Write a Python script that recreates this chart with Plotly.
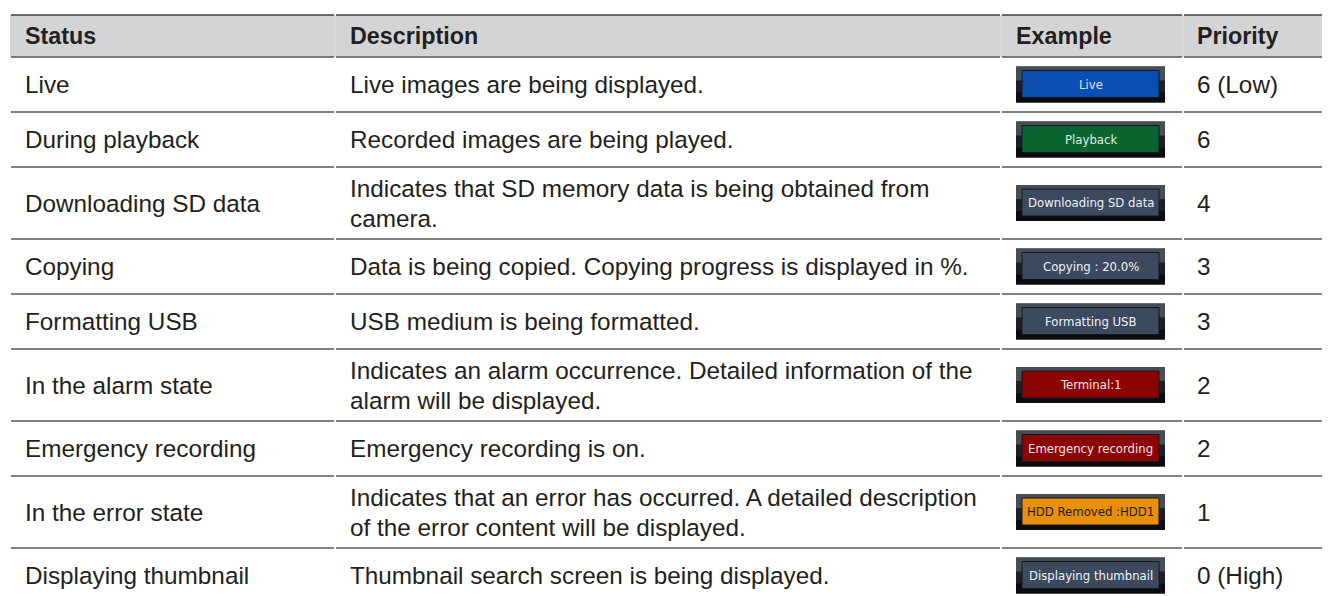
import plotly.graph_objects as go

# ---------------- data ----------------
headers = ["Status", "Description", "Example", "Priority"]
statuses = ["Live", "During playback", "Downloading SD data", "Copying", "Formatting USB",
            "In the alarm state", "Emergency recording", "In the error state", "Displaying thumbnail"]
descriptions = [
    ["Live images are being displayed."],
    ["Recorded images are being played."],
    ["Indicates that SD memory data is being obtained from", "camera."],
    ["Data is being copied. Copying progress is displayed in %."],
    ["USB medium is being formatted."],
    ["Indicates an alarm occurrence. Detailed information of the", "alarm will be displayed."],
    ["Emergency recording is on."],
    ["Indicates that an error has occurred. A detailed description", "of the error content will be displayed."],
    ["Thumbnail search screen is being displayed."],
]
examples = ["Live", "Playback", "Downloading SD data", "Copying : 20.0%", "Formatting USB",
            "Terminal:1", "Emergency recording", "HDD Removed :HDD1", "Displaying thumbnail"]
priorities = ["6 (Low)", "6", "4", "3", "3", "2", "2", "1", "0 (High)"]

# ---------------- styles ----------------
badge_style = {
    "Live": ("#0b4fb3", "#dfe6f0"),
    "Playback": ("#0b6530", "#dfeee2"),
    "Downloading SD data": ("#3c4a5f", "#f0f2f5"),
    "Copying : 20.0%": ("#3c4a5f", "#f0f2f5"),
    "Formatting USB": ("#3c4a5f", "#f0f2f5"),
    "Terminal:1": ("#8c0303", "#f4e6e6"),
    "Emergency recording": ("#8c0303", "#f4e6e6"),
    "HDD Removed :HDD1": ("#e8900c", "#1a1a1a"),
    "Displaying thumbnail": ("#3c4a5f", "#f0f2f5"),
}
W, H = 1330, 596
OFF = 8  # page body margin
col_edges = [10, 335, 1001, 1183, 1330]
text_pad = 13
header_top, header_bot = 15, 57
row_h_single, row_extra_line = 55, 17
line_gap = 30
FONT = "Liberation Sans, Arial, Helvetica, sans-serif"
TXT = "#231f20"
FS = 24.3

fig = go.Figure()
shapes, annos = [], []

# header
shapes.append(dict(type="rect", xref="x", yref="y", x0=col_edges[0], x1=col_edges[-1],
                   y0=header_top, y1=header_bot, fillcolor="#d3d4d6", line=dict(width=0), layer="below"))
for i, h in enumerate(headers):
    annos.append(dict(x=col_edges[i] + text_pad - (1 if i == 3 else 0), y=(header_top + header_bot) / 2,
                      text="<b>%s</b>" % h,
                      xanchor="left", yanchor="middle", showarrow=False,
                      font=dict(family=FONT, size=FS - 1, color=TXT)))
for xe in col_edges[1:-1]:
    shapes.append(dict(type="line", xref="x", yref="y", x0=xe, x1=xe, y0=header_top + 1, y1=header_bot - 1,
                       line=dict(color="#dedfe0", width=1)))

def hline(y, w, c):
    for a, b in zip(col_edges[:-1], col_edges[1:]):
        shapes.append(dict(type="line", xref="x", yref="y", x0=a + 1, x1=b - 1, y0=y, y1=y,
                           line=dict(color=c, width=w)))

hline(header_top, 1.6, "#3f3f41")
hline(header_bot, 1.3, "#58595b")

y = header_bot
for st, desc, ex, pr in zip(statuses, descriptions, examples, priorities):
    h = row_h_single + row_extra_line * (len(desc) - 1)
    yc = y + h / 2
    annos.append(dict(x=col_edges[0] + text_pad, y=yc, text=st, xanchor="left", yanchor="middle",
                      showarrow=False, font=dict(family=FONT, size=FS, color=TXT)))
    n = len(desc)
    for k, line in enumerate(desc):
        ly = yc + (k - (n - 1) / 2) * line_gap
        annos.append(dict(x=col_edges[1] + text_pad, y=ly, text=line, xanchor="left", yanchor="middle",
                          showarrow=False, font=dict(family=FONT, size=FS, color=TXT)))
    annos.append(dict(x=col_edges[3] + text_pad - 1, y=yc, text=pr, xanchor="left", yanchor="middle",
                      showarrow=False, font=dict(family=FONT, size=FS, color=TXT)))
    # badge
    bx0 = col_edges[2] + 15
    bx1 = bx0 + 149
    by0, by1 = yc - 18, yc + 18
    fill, tcol = badge_style[ex]
    shapes.append(dict(type="rect", xref="x", yref="y", x0=bx0, x1=bx1, y0=by0, y1=by1,
                       fillcolor="#1c2026", line=dict(width=0)))
    shapes.append(dict(type="rect", xref="x", yref="y", x0=bx0, x1=bx1, y0=by0, y1=by0 + 14,
                       fillcolor="#474d57", line=dict(width=0)))
    shapes.append(dict(type="rect", xref="x", yref="y", x0=bx0, x1=bx1, y0=by1 - 10, y1=by1,
                       fillcolor="#0a0c0f", line=dict(width=0)))
    shapes.append(dict(type="rect", xref="x", yref="y", x0=bx0 + 6, x1=bx1 - 6, y0=by0 + 4, y1=by1 - 5,
                       fillcolor=fill, line=dict(color="#15171a", width=1)))
    annos.append(dict(x=(bx0 + bx1) / 2, y=yc - 0.5, text=ex, xanchor="center", yanchor="middle",
                      showarrow=False,
                      font=dict(family="DejaVu Sans Condensed, DejaVu Sans", size=13, color=tcol)))
    y += h
    if y < H:
        hline(y, 1.3, "#58595b")

fig.update_layout(
    width=W - OFF, height=H - OFF, margin=dict(l=0, r=0, t=0, b=0),
    paper_bgcolor="white", plot_bgcolor="white",
    xaxis=dict(range=[OFF, W], visible=False, fixedrange=True),
    yaxis=dict(range=[H, OFF], visible=False, fixedrange=True),
    shapes=shapes, annotations=annos, showlegend=False,
)
fig.write_html("out.html", config={"displayModeBar": False})
